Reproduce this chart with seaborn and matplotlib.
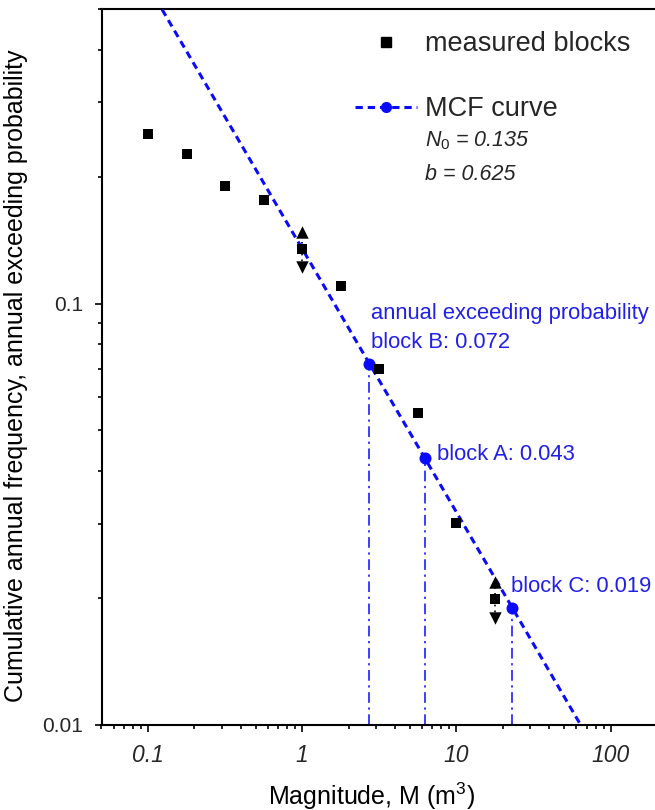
import numpy as np
import pandas as pd
import matplotlib
matplotlib.use("Agg")
import matplotlib.pyplot as plt
import matplotlib.ticker as mticker
from matplotlib.lines import Line2D
import seaborn as sns

# ---- data ----
block_M = [0.1, 0.178, 0.316, 0.562, 1.0, 1.78, 3.16, 5.62, 10.0, 17.8]
block_N = [0.252, 0.227, 0.1905, 0.176, 0.135, 0.110, 0.0701, 0.0551, 0.0302, 0.0199]

# uncertainty arrows (up / down) at two blocks
arrow_M = [1.0, 17.8]
arrow_up = [0.148, 0.0219]
arrow_down = [0.122, 0.0179]

# MCF curve (straight line in log-log), N0 = 0.135, b = 0.625
mcf_M = [0.1, 1.0, 2.73, 6.24, 23.0, 64.0]
mcf_N = [0.569, 0.135, 0.072, 0.043, 0.019, 0.010]

# highlighted blocks on the curve
hl_names = ["block B: 0.072", "block A: 0.043", "block C: 0.019"]
hl_M = [2.73, 6.24, 23.0]
hl_N = [0.072, 0.043, 0.019]

x_ticks = [0.1, 1, 10, 100]
x_ticklabels = ["0.1", "1", "10", "100"]
y_ticks = [0.01, 0.1]
y_ticklabels = ["0.01", "0.1"]

BLUE = "#0a0aff"
TBLUE = "#2020e8"

sns.set_theme(style="white")
plt.rcParams["font.family"] = ["Liberation Sans", "DejaVu Sans"]
plt.rcParams["mathtext.fontset"] = "custom"
plt.rcParams["mathtext.rm"] = "Liberation Sans"
plt.rcParams["mathtext.it"] = "Liberation Sans:italic"

W, H = 655, 810
fig = plt.figure(figsize=(W / 100, H / 100), dpi=100)
ax = fig.add_axes([101.5 / W, 1 - 725 / H, (657 - 101.5) / W, (725 - 9) / H])

ax.set_xscale("log")
ax.set_yscale("log")

df_blocks = pd.DataFrame({"M": block_M, "N": block_N})
df_mcf = pd.DataFrame({"M": mcf_M, "N": mcf_N})
df_hl = pd.DataFrame({"M": hl_M, "N": hl_N})

# vertical dash-dot drop lines
ax.vlines(hl_M, 0.01, hl_N, colors=BLUE, linewidth=1.1,
          linestyles=[(0, (7, 3, 1.5, 3))], zorder=2)

# MCF curve
sns.lineplot(data=df_mcf, x="M", y="N", ax=ax, color=BLUE, linewidth=2.2,
             linestyle=(0, (2.4, 1.6)), sort=True, zorder=3, label="_nolegend_")

sns.scatterplot(data=df_hl, x="M", y="N", ax=ax, color=BLUE, marker="o",
                s=75, edgecolor=BLUE, linewidth=0, zorder=5, legend=False)

# dotted link between arrows
for m, lo, hi in zip(arrow_M, arrow_down, arrow_up):
    ax.plot([m, m], [lo, hi], color="black", linestyle=(0, (1, 2.5)), lw=1.2, zorder=3)

sns.scatterplot(x=arrow_M, y=arrow_up, ax=ax, color="black", marker="^", s=80,
                linewidth=0, zorder=4, legend=False)
sns.scatterplot(x=arrow_M, y=arrow_down, ax=ax, color="black", marker="v", s=80,
                linewidth=0, zorder=4, legend=False)

sns.scatterplot(data=df_blocks, x="M", y="N", ax=ax, color="black", marker="s",
                s=48, linewidth=0, zorder=6, legend=False)

ax.set_xlim(0.05, 200)
ax.set_ylim(0.01, 0.5)

# ticks
ax.xaxis.set_major_locator(mticker.FixedLocator(x_ticks))
ax.xaxis.set_major_formatter(mticker.FixedFormatter(x_ticklabels))
ax.xaxis.set_minor_locator(mticker.LogLocator(base=10, subs=np.arange(2, 10)))
ax.xaxis.set_minor_formatter(mticker.NullFormatter())
ax.yaxis.set_major_locator(mticker.FixedLocator(y_ticks))
ax.yaxis.set_major_formatter(mticker.FixedFormatter(y_ticklabels))
ax.yaxis.set_minor_locator(mticker.LogLocator(base=10, subs=np.arange(2, 10)))
ax.yaxis.set_minor_formatter(mticker.NullFormatter())

ax.tick_params(which="major", direction="out", length=5, width=1.2, color="black",
               bottom=True, left=True, top=False, right=False)
ax.tick_params(which="minor", direction="out", length=3, width=1.2, color="black",
               bottom=True, left=True, top=False, right=False)
ax.tick_params(axis="x", which="major", pad=9, labelsize=16.5)
ax.tick_params(axis="y", which="major", pad=8, labelsize=15)
for lab in ax.get_xticklabels():
    lab.set_fontstyle("italic")

for side in ["left", "bottom", "top"]:
    ax.spines[side].set_visible(True)
    ax.spines[side].set_color("black")
    ax.spines[side].set_linewidth(1.5)
ax.spines["right"].set_visible(False)

ax.set_xlabel(r"Magnitude, M (m$^{3}$)", fontsize=18, color="black")
ax.set_ylabel("Cumulative annual frequency, annual exceeding probability",
              fontsize=18, color="black")
ax.xaxis.set_label_coords(0.487, -0.077)
ax.yaxis.set_label_coords(-0.132, 0.488)

# annotations
ax.annotate("annual exceeding probability", xy=(hl_M[0], hl_N[0]),
            xytext=(1.5, 36), textcoords="offset points", color=TBLUE,
            fontsize=15.8, va="center", ha="left")
offsets = [(1.5, 15), (8.5, 2.5), (-0.5, 15)]
for name, m, n, off in zip(hl_names, hl_M, hl_N, offsets):
    ax.annotate(name, xy=(m, n), xytext=off, textcoords="offset points",
                color=TBLUE, fontsize=15.8, va="center", ha="left")

# legend
h_blocks = Line2D([], [], color="black", marker="s", linestyle="none", markersize=7)
h_mcf = Line2D([], [], color=BLUE, marker="o", markersize=7, linewidth=2.2,
               linestyle=(0, (2.4, 1.6)))
fig.legend([h_blocks, h_mcf], ["measured blocks", "MCF curve"],
           loc="upper left", bbox_to_anchor=(355 / W, 1 - 31 / H),
           bbox_transform=fig.transFigure, frameon=False, fontsize=19.5,
           handlelength=2.3, handletextpad=0.3, labelspacing=1.45,
           borderpad=0, borderaxespad=0)

fig.text(425 / W, 1 - 141 / H, r"$N_{\mathit{0}}$ = 0.135", fontsize=15.5,
         style="italic", va="center", ha="left")
fig.text(425 / W, 1 - 175 / H, "b = 0.625", fontsize=15.5, style="italic",
         va="center", ha="left")

fig.savefig("out.png", dpi=100)
